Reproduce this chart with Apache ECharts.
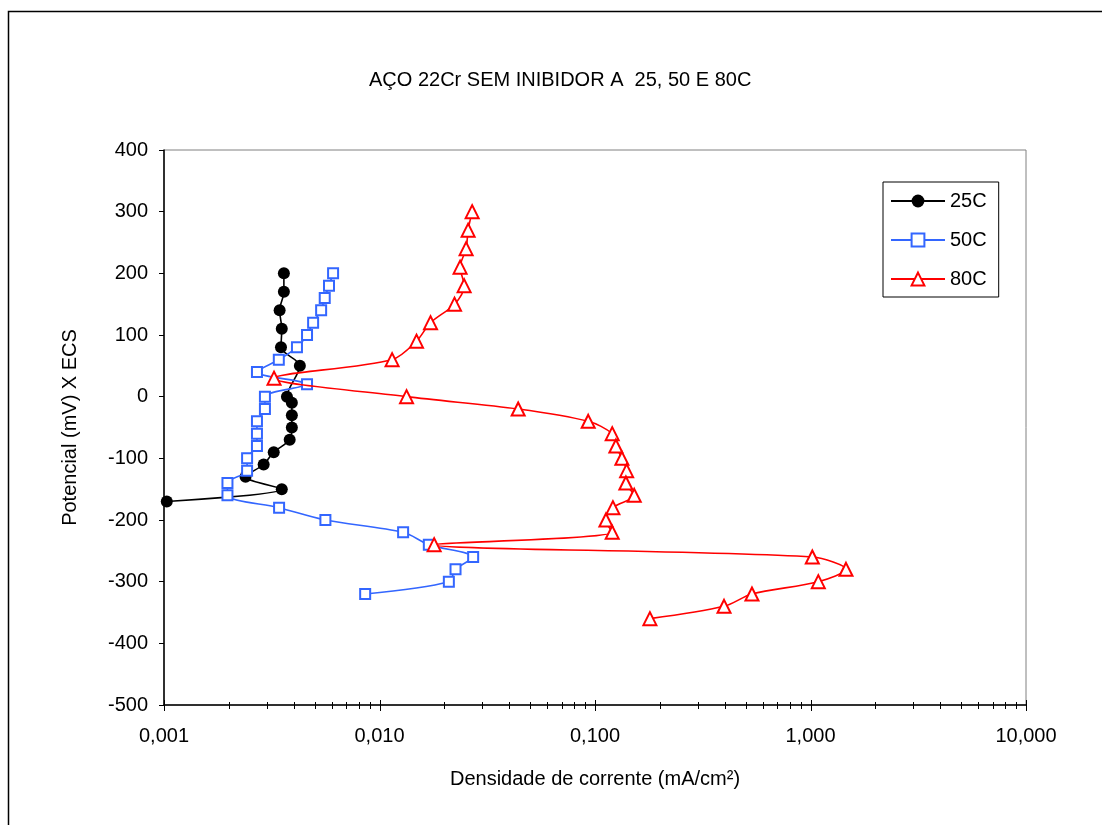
<!DOCTYPE html>
<html>
<head>
<meta charset="utf-8">
<script src="https://cdn.jsdelivr.net/npm/echarts@6/dist/echarts.min.js"></script>
<style>
  html, body { margin: 0; padding: 0; background: #fff; }
  #chart { width: 1102px; height: 825px; }
</style>
</head>
<body>
<div id="chart"></div>
<script>
// Polarization curves of 22Cr steel without inhibitor at three temperatures
const seriesNames = ['25C', '50C', '80C'];

// 25C: current density (mA/cm²) and potential (mV vs ECS)
const current25 = [0.00360, 0.00360, 0.00344, 0.00352, 0.00349, 0.00427, 0.00372, 0.00392,
                   0.00392, 0.00392, 0.00383, 0.00323, 0.00290, 0.00239, 0.00352, 0.00103];
const potential25 = [200, 170, 140, 110, 80, 50, 0, -10, -30, -50, -70, -90, -110, -130, -150, -170];

// 50C
const current50 = [0.00609, 0.00583, 0.00557, 0.00536, 0.00492, 0.00461, 0.00414, 0.00341,
                   0.00270, 0.00461, 0.00294, 0.00294, 0.00270, 0.00270, 0.00270, 0.00243,
                   0.00243, 0.00197, 0.00197, 0.00342, 0.00561, 0.01287, 0.01694, 0.02720,
                   0.02253, 0.02098, 0.00858];
const potential50 = [200, 180, 160, 140, 120, 100, 80, 60, 40, 20, 0, -20, -40, -60, -80, -100,
                     -120, -140, -160, -180, -200, -220, -240, -260, -280, -300, -320];

// 80C
const current80 = [0.02691, 0.02578, 0.02523, 0.02366, 0.02470, 0.02229, 0.01725, 0.01485,
                   0.01144, 0.00324, 0.01335, 0.0440, 0.0930, 0.1202, 0.1250, 0.1333, 0.1402,
                   0.1391, 0.1521, 0.1211, 0.1124, 0.1202, 0.01793, 1.0196, 1.461, 1.087,
                   0.535, 0.397, 0.1798];
const potential80 = [300, 270, 240, 210, 180, 150, 120, 90, 60, 30, 0, -20, -40, -60, -80, -100,
                     -120, -140, -160, -180, -200, -220, -240, -260, -280, -300, -320, -340, -360];

// Axis ranges and decades of the logarithmic current axis
const xMin = 0.001, xMax = 10;
const yMin = -500, yMax = 400, yStep = 100;
const xDecades = [0.001, 0.01, 0.1, 1];
const xMinorMultipliers = [2, 3, 4, 5, 6, 7, 8, 9];

const titleText = 'AÇO 22Cr SEM INIBIDOR A  25, 50 E 80C';
const xName = 'Densidade de corrente (mA/cm²)';
const yName = 'Potencial (mV) X ECS';

function pairs(xs, ys) { return xs.map((x, i) => [x, ys[i]]); }

// tick marks for the log axis: [value, axisBottomValue, isMajor]
const tickData = [];
xDecades.forEach(d => {
  tickData.push([d, yMin, 1]);
  xMinorMultipliers.forEach(m => tickData.push([d * m, yMin, 0]));
});
tickData.push([xMax, yMin, 1]);

const FONT = '"Liberation Sans", Arial, sans-serif';

const chart = echarts.init(document.getElementById('chart'), null, { renderer: 'canvas' });

chart.setOption({
  animation: false,
  backgroundColor: '#fff',
  textStyle: { fontFamily: FONT },
  title: {
    text: titleText,
    left: 369,
    top: 70,
    padding: 0,
    textStyle: { fontFamily: FONT, fontSize: 20, fontWeight: 'normal', color: '#000' }
  },
  graphic: [{
    type: 'rect',
    shape: { x: 8.5, y: 11.5, width: 1200, height: 900 },
    style: { fill: null, stroke: '#000', lineWidth: 1.5 },
    silent: true,
    z: -1
  }],
  grid: {
    left: 164, right: 76, top: 150, bottom: 120,
    show: true, borderColor: '#808080', borderWidth: 1, backgroundColor: '#fff'
  },
  legend: {
    data: seriesNames,
    orient: 'vertical',
    left: 883, top: 182,
    padding: [9, 12, 8, 7],
    itemWidth: 54, itemHeight: 16, itemGap: 19,
    backgroundColor: '#fff',
    borderColor: '#000', borderWidth: 1,
    textStyle: { fontFamily: FONT, fontSize: 20, color: '#000' }
  },
  xAxis: {
    type: 'log', logBase: 10, min: xMin, max: xMax,
    name: xName, nameLocation: 'middle', nameGap: 64,
    nameTextStyle: { fontFamily: FONT, fontSize: 20, color: '#000' },
    axisLine: { show: true, onZero: false, lineStyle: { color: '#000', width: 1.5 } },
    axisTick: { show: false },
    splitLine: { show: false },
    axisLabel: {
      margin: 21, fontFamily: FONT, fontSize: 20, color: '#000',
      formatter: v => v.toFixed(3).replace('.', ',')
    }
  },
  yAxis: {
    type: 'value', min: yMin, max: yMax, interval: yStep,
    name: yName, nameLocation: 'middle', nameGap: 84,
    nameTextStyle: { fontFamily: FONT, fontSize: 20, color: '#000' },
    axisLine: { show: true, onZero: false, lineStyle: { color: '#000', width: 1.5 } },
    axisTick: { show: true, length: 5, lineStyle: { color: '#000', width: 1 } },
    splitLine: { show: false },
    axisLabel: { margin: 16, fontFamily: FONT, fontSize: 20, color: '#000' }
  },
  series: [
    {
      name: '25C', type: 'line', data: pairs(current25, potential25),
      smooth: 0.3, symbol: 'circle', symbolSize: 12,
      lineStyle: { color: '#000', width: 1.6 },
      itemStyle: { color: '#000', borderColor: '#000', borderWidth: 0 },
      z: 3
    },
    {
      name: '50C', type: 'line', data: pairs(current50, potential50),
      smooth: 0.3, symbol: 'rect', symbolSize: 10,
      lineStyle: { color: '#3366FF', width: 1.6 },
      itemStyle: { color: '#fff', borderColor: '#3366FF', borderWidth: 2 },
      z: 4
    },
    {
      name: '80C', type: 'line', data: pairs(current80, potential80),
      smooth: 0.3, symbol: 'triangle', symbolSize: 13,
      lineStyle: { color: '#FF0000', width: 1.6 },
      itemStyle: { color: '#fff', borderColor: '#FF0000', borderWidth: 2 },
      z: 5
    },
    {
      name: 'xTicks', type: 'custom', coordinateSystem: 'cartesian2d',
      data: tickData, clip: false, silent: true, z: 6,
      renderItem: function (params, api) {
        const p = api.coord([api.value(0), api.value(1)]);
        const major = api.value(2) === 1;
        const x = Math.round(p[0]) + 0.5;
        return {
          type: 'line',
          shape: { x1: x, y1: p[1] - (major ? 5 : 3), x2: x, y2: p[1] + (major ? 6 : 4) },
          style: { stroke: '#000', lineWidth: 1 }
        };
      }
    }
  ]
});
</script>
</body>
</html>
